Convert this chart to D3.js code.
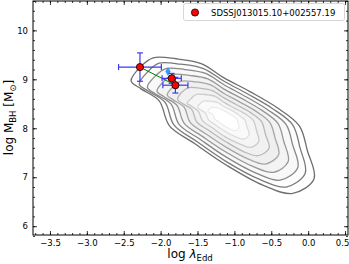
<!DOCTYPE html>
<html><head><meta charset="utf-8">
<script src="https://cdn.jsdelivr.net/npm/d3@7"></script>
<style>body{margin:0;background:#fff}svg{display:block;font-family:"DejaVu Sans",sans-serif}</style>
</head><body>
<svg id="c" width="349" height="264"></svg>
<script>
// ---- data ----
const xTicks = [-3.5, -3.0, -2.5, -2.0, -1.5, -1.0, -0.5, 0.0, 0.5];
const yTicks = [6, 7, 8, 9, 10];
const ptX = [-2.28, -1.85, -1.80];
const ptY = [9.25, 9.02, 8.88];
const ptXerr = [0.29, 0.13, 0.17];
const ptYerr = [0.29, 0.10, 0.16];
const arrowPt = [-1.90, 9.16];
const legendLabel = "SDSSJ013015.10+002557.19";
// contour outlines, outer -> inner
const contour1 = [[-2.40,8.97],[-2.27,9.26],[-2.10,9.44],[-1.79,9.42],[-1.45,9.32],[-1.14,9.03],[-0.79,8.75],[-0.42,8.42],[-0.12,8.05],[-0.01,7.54],[0.08,6.97],[-0.21,6.67],[-0.60,6.83],[-1.10,7.24],[-1.54,7.69],[-1.88,8.05],[-2.02,8.56],[-2.27,8.81]];
const contour2 = [[-2.29,8.90],[-2.17,9.16],[-2.02,9.33],[-1.73,9.31],[-1.42,9.22],[-1.14,8.96],[-0.82,8.70],[-0.48,8.40],[-0.21,8.07],[-0.11,7.60],[-0.04,7.08],[-0.30,6.80],[-0.65,6.95],[-1.11,7.32],[-1.51,7.73],[-1.82,8.07],[-1.94,8.53],[-2.17,8.76]];
const contour3 = [[-2.18,8.84],[-2.07,9.07],[-1.93,9.22],[-1.67,9.20],[-1.39,9.12],[-1.14,8.89],[-0.85,8.65],[-0.55,8.38],[-0.30,8.08],[-0.21,7.66],[-0.14,7.20],[-0.38,6.94],[-0.70,7.08],[-1.11,7.41],[-1.47,7.78],[-1.75,8.08],[-1.86,8.50],[-2.07,8.70]];
const contour4 = [[-2.05,8.76],[-1.95,8.97],[-1.83,9.10],[-1.61,9.08],[-1.36,9.01],[-1.14,8.80],[-0.89,8.60],[-0.62,8.36],[-0.41,8.10],[-0.33,7.73],[-0.27,7.32],[-0.47,7.10],[-0.75,7.22],[-1.11,7.51],[-1.43,7.83],[-1.68,8.10],[-1.78,8.47],[-1.95,8.64]];
const contour5 = [[-1.91,8.68],[-1.83,8.85],[-1.73,8.96],[-1.54,8.95],[-1.33,8.89],[-1.14,8.71],[-0.93,8.54],[-0.70,8.34],[-0.52,8.12],[-0.45,7.81],[-0.40,7.46],[-0.58,7.27],[-0.81,7.37],[-1.12,7.62],[-1.39,7.89],[-1.60,8.12],[-1.68,8.43],[-1.83,8.58]];
const contour6 = [[-1.77,8.59],[-1.71,8.74],[-1.62,8.83],[-1.47,8.82],[-1.30,8.77],[-1.14,8.62],[-0.97,8.48],[-0.78,8.32],[-0.63,8.13],[-0.58,7.88],[-0.53,7.59],[-0.68,7.44],[-0.87,7.52],[-1.12,7.73],[-1.34,7.95],[-1.51,8.13],[-1.58,8.39],[-1.71,8.51]];
const contour7 = [[-1.64,8.51],[-1.58,8.62],[-1.52,8.69],[-1.40,8.69],[-1.26,8.65],[-1.14,8.53],[-1.01,8.42],[-0.86,8.30],[-0.74,8.15],[-0.70,7.95],[-0.67,7.73],[-0.78,7.61],[-0.93,7.68],[-1.13,7.83],[-1.30,8.01],[-1.43,8.15],[-1.49,8.35],[-1.58,8.45]];
const contour8 = [[-1.50,8.43],[-1.46,8.51],[-1.41,8.56],[-1.32,8.55],[-1.23,8.53],[-1.14,8.44],[-1.04,8.37],[-0.94,8.27],[-0.86,8.17],[-0.83,8.03],[-0.80,7.87],[-0.88,7.78],[-0.99,7.83],[-1.13,7.94],[-1.26,8.07],[-1.35,8.17],[-1.39,8.31],[-1.46,8.38]];
const contour9 = [[-1.36,8.34],[-1.34,8.39],[-1.31,8.42],[-1.25,8.42],[-1.20,8.40],[-1.14,8.36],[-1.08,8.31],[-1.02,8.25],[-0.97,8.19],[-0.95,8.10],[-0.94,8.00],[-0.99,7.95],[-1.05,7.98],[-1.14,8.05],[-1.21,8.13],[-1.27,8.19],[-1.29,8.28],[-1.34,8.32]];
const contours = [contour1, contour2, contour3, contour4, contour5, contour6, contour7, contour8, contour9];
const contourColors = ["#6e6e6e","#7a7a7a","#888888","#969696","#a6a6a6","#b8b8b8","#cacaca","#dcdcdc","#ececec"];
const contourFills = ["#ffffff","#fdfdfd","#f8f8f8","#f3f3f3","#efefef","#f1f1f1","#f5f5f5","#fafafa","#ffffff"];

// ---- layout ----
const L = 33, R = 348, T = 1, B = 235;
const svg = d3.select("#c");
const x = d3.scaleLinear().domain([-3.73, 0.54]).range([L, R]);
const y = d3.scaleLinear().domain([5.82, 10.6]).range([B, T]);

svg.append("defs").append("clipPath").attr("id","cp").append("rect")
  .attr("x",L).attr("y",T).attr("width",R-L).attr("height",B-T);
const plot = svg.append("g").attr("clip-path","url(#cp)");

const line = d3.line().x(d=>x(d[0])).y(d=>y(d[1])).curve(d3.curveCatmullRomClosed.alpha(0.5));
plot.selectAll("path.ctf").data(contours).join("path").attr("class","ctf")
  .attr("d", line).attr("fill",(d,i)=>contourFills[i]).attr("stroke","none");
plot.selectAll("path.ct").data(contours).join("path").attr("class","ct")
  .attr("d", line).attr("fill","none")
  .attr("stroke",(d,i)=>contourColors[i]).attr("stroke-width",1.3);

// green connector
plot.append("line").attr("x1",x(ptX[0])).attr("y1",y(ptY[0])).attr("x2",x(ptX[2])).attr("y2",y(ptY[2]))
  .attr("stroke","green").attr("stroke-width",1);
// blue marker
plot.append("path").attr("d", d3.symbol(d3.symbolDiamond, 24)())
  .attr("transform",`translate(${x(arrowPt[0])},${y(arrowPt[1])})`).attr("fill","#3399ff");

// error bars
const eb = plot.append("g").attr("stroke","#3a3af0").attr("stroke-width",1.2);
ptX.forEach((px,i)=>{
  const cx=x(px), cy=y(ptY[i]);
  const x0=x(px-ptXerr[i]), x1=x(px+ptXerr[i]);
  const y0=y(ptY[i]-ptYerr[i]), y1=y(ptY[i]+ptYerr[i]);
  eb.append("line").attr("x1",x0).attr("x2",x1).attr("y1",cy).attr("y2",cy);
  eb.append("line").attr("x1",cx).attr("x2",cx).attr("y1",y0).attr("y2",y1);
  [x0,x1].forEach(v=>eb.append("line").attr("x1",v).attr("x2",v).attr("y1",cy-3).attr("y2",cy+3));
  [y0,y1].forEach(v=>eb.append("line").attr("y1",v).attr("y2",v).attr("x1",cx-3).attr("x2",cx+3));
});
plot.selectAll("circle.pt").data(ptX).join("circle").attr("class","pt")
  .attr("cx",d=>x(d)).attr("cy",(d,i)=>y(ptY[i])).attr("r",3.6)
  .attr("fill","red").attr("stroke","#000").attr("stroke-width",0.8);

// axes with inward ticks
const fmt = d => d3.format(".1f")(d).replace("-", "\u2212");
const xMinor = d3.range(-3.7, 0.55, 0.1).map(v=>+v.toFixed(2));
const yMinor = d3.range(5.8, 10.61, 0.2).map(v=>+v.toFixed(2));
function style(g){ g.select(".domain").remove(); g.selectAll("line").attr("stroke","#000").attr("stroke-width",0.8); g.selectAll("text").attr("font-size","8.5px").attr("fill","#000").attr("font-family","DejaVu Sans"); }
const xAx = svg.append("g").attr("transform",`translate(0,${B})`).call(d3.axisBottom(x).tickValues(xTicks).tickSize(-4).tickPadding(5).tickFormat(fmt)).call(style);
xAx.selectAll(".tick").filter(d=>d===0.5).select("text").attr("dx",-3);
svg.append("g").attr("transform",`translate(0,${B})`).call(d3.axisBottom(x).tickValues(xMinor).tickSize(-2).tickFormat("")).call(style);
svg.append("g").attr("transform",`translate(0,${T})`).call(d3.axisTop(x).tickValues(xTicks).tickSize(-4).tickFormat("")).call(style);
svg.append("g").attr("transform",`translate(0,${T})`).call(d3.axisTop(x).tickValues(xMinor).tickSize(-2).tickFormat("")).call(style);
svg.append("g").attr("transform",`translate(${L},0)`).call(d3.axisLeft(y).tickValues(yTicks).tickSize(-4).tickPadding(5).tickFormat(d3.format("d"))).call(style);
svg.append("g").attr("transform",`translate(${L},0)`).call(d3.axisLeft(y).tickValues(yMinor).tickSize(-2).tickFormat("")).call(style);
svg.append("g").attr("transform",`translate(${R},0)`).call(d3.axisRight(y).tickValues(yTicks).tickSize(-4).tickFormat("")).call(style);
svg.append("g").attr("transform",`translate(${R},0)`).call(d3.axisRight(y).tickValues(yMinor).tickSize(-2).tickFormat("")).call(style);
svg.append("rect").attr("x",L).attr("y",T).attr("width",R-L).attr("height",B-T).attr("fill","none").attr("stroke","#000").attr("stroke-width",1);

// axis labels
const xl = svg.append("text").attr("x",190).attr("y",258).attr("text-anchor","middle").attr("font-size","12px").attr("fill","#000");
xl.append("tspan").text("log ");
xl.append("tspan").attr("font-style","italic").text("\u03bb");
xl.append("tspan").attr("font-size","8.5px").attr("dy",3).text("Edd");
const yl = svg.append("text").attr("transform","translate(13,117.5) rotate(-90)").attr("text-anchor","middle").attr("font-size","12px").attr("fill","#000");
yl.append("tspan").text("log M");
yl.append("tspan").attr("font-size","8.5px").attr("dy",3).text("BH");
yl.append("tspan").attr("dy",-3).text(" [M");
yl.append("tspan").attr("font-size","8.5px").attr("dy",3).text("\u2299");
yl.append("tspan").attr("dy",-3).text("]");

// legend
svg.append("rect").attr("x",183.5).attr("y",3.5).attr("width",161).attr("height",17).attr("rx",2)
  .attr("fill","#fff").attr("fill-opacity",0.85).attr("stroke","#cccccc").attr("stroke-width",0.8);
svg.append("circle").attr("cx",195).attr("cy",12.5).attr("r",3.6).attr("fill","red").attr("stroke","#000").attr("stroke-width",0.8);
svg.append("text").attr("x",211).attr("y",12.5).attr("dominant-baseline","central").attr("font-size","8.5px").attr("fill","#000").text(legendLabel);
</script>
</body></html>
